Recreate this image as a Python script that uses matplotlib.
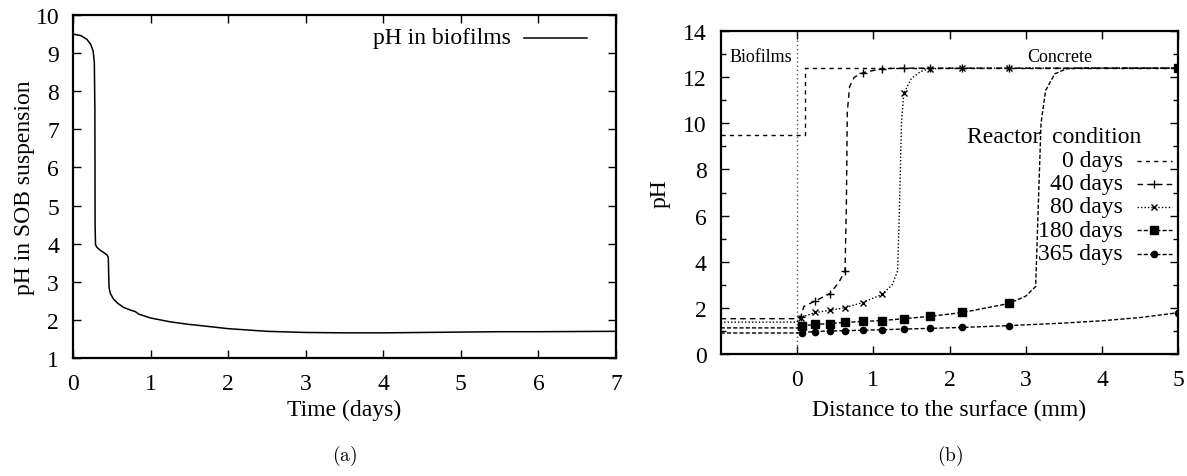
import numpy as np
import matplotlib
matplotlib.use("Agg")
import matplotlib.pyplot as plt
from matplotlib.ticker import MultipleLocator

plt.rcParams['font.family'] = ['Liberation Serif', 'DejaVu Serif']
plt.rcParams['mathtext.fontset'] = 'cm'

# --- (a) pH in SOB suspension vs time ---
time_days = [0, 0.1, 0.18, 0.23, 0.26, 0.275, 0.282, 0.285, 0.29, 0.31, 0.35, 0.4,
             0.44, 0.455, 0.46, 0.465, 0.48, 0.52, 0.58, 0.65, 0.75, 0.8, 0.85, 1.0,
             1.25, 1.5, 1.6, 2.0, 2.5, 3.0, 3.5, 4.0, 4.5, 5.0, 5.5, 6.0, 7.0]
ph_biofilm = [9.5, 9.46, 9.36, 9.22, 9.05, 8.75, 7.5, 4.5, 3.97, 3.9, 3.83, 3.76,
              3.7, 3.64, 3.2, 2.85, 2.7, 2.55, 2.43, 2.33, 2.25, 2.22, 2.15, 2.05,
              1.95, 1.88, 1.86, 1.77, 1.70, 1.67, 1.66, 1.66, 1.67, 1.68, 1.69, 1.69, 1.70]

# --- (b) pH profiles across biofilm/concrete ---
x_0d = [-1, 0.1, 0.1, 5.0]
ph_0d = [9.5, 9.5, 12.4, 12.4]

x_40d = [-1, 0, 0.05, 0.09, 0.24, 0.43, 0.55, 0.63, 0.648, 0.66, 0.69, 0.75,
         0.86, 1.12, 1.40, 1.74, 2.17, 2.78, 5.0]
ph_40d = [1.52, 1.52, 1.6, 2.05, 2.29, 2.61, 3.1, 3.6, 6.5, 10.5, 11.6, 12.0,
          12.2, 12.38, 12.4, 12.4, 12.4, 12.4, 12.4]
mk_40d = [2, 4, 5, 7, 12, 13, 14, 15, 16, 17]

x_80d = [-1, 0, 0.05, 0.24, 0.43, 0.63, 0.86, 1.12, 1.25, 1.32, 1.345, 1.37,
         1.40, 1.50, 1.62, 1.74, 2.17, 2.78, 5.0]
ph_80d = [1.37, 1.37, 1.57, 1.79, 1.88, 2.0, 2.22, 2.58, 3.0, 3.6, 6.5, 10.0,
          11.3, 11.95, 12.25, 12.38, 12.4, 12.4, 12.4]
mk_80d = [2, 3, 4, 5, 6, 7, 12, 15, 16, 17]

x_180d = [-1, 0, 0.06, 0.24, 0.43, 0.63, 0.86, 1.12, 1.40, 1.74, 2.17, 2.78, 3.0,
          3.13, 3.16, 3.2, 3.26, 3.38, 3.53, 3.7, 5.0]
ph_180d = [1.12, 1.12, 1.21, 1.27, 1.31, 1.36, 1.40, 1.44, 1.52, 1.62, 1.79, 2.18, 2.5,
           2.92, 6.0, 10.0, 11.43, 12.15, 12.37, 12.4, 12.4]
mk_180d = [2, 3, 4, 5, 6, 7, 8, 9, 10, 11, 20]

x_365d = [-1, 0, 0.06, 0.24, 0.43, 0.63, 0.86, 1.12, 1.40, 1.74, 2.17, 2.78,
          3.5, 4.0, 4.5, 5.0]
ph_365d = [0.90, 0.90, 0.92, 0.96, 0.99, 1.0, 1.02, 1.04, 1.07, 1.10, 1.14, 1.22,
           1.33, 1.43, 1.57, 1.78]
mk_365d = [2, 3, 4, 5, 6, 7, 8, 9, 10, 11, 15]

series = [
    ("0 days", x_0d, ph_0d, None, dict(ls=(0, (3, 3)), marker=None)),
    ("40 days", x_40d, ph_40d, mk_40d, dict(ls=(0, (4, 3)), marker='+', ms=6, mew=1)),
    ("80 days", x_80d, ph_80d, mk_80d, dict(ls=(0, (1, 1.5)), marker='x', ms=5, mew=1)),
    ("180 days", x_180d, ph_180d, mk_180d, dict(ls=(0, (3, 1.5)), marker='s', ms=6)),
    ("365 days", x_365d, ph_365d, mk_365d, dict(ls=(0, (3, 1.5)), marker='o', ms=4.5)),
]

FS = 17

fig = plt.figure(figsize=(11.87, 4.77), dpi=100)
ax1 = fig.add_axes([73 / 1187, 1 - 359 / 477, 543 / 1187, 343 / 477])
ax2 = fig.add_axes([720.7 / 1187, 1 - 354.7 / 477, 457.6 / 1187, 322.4 / 477])


def style_axes(ax):
    for s in ax.spines.values():
        s.set_linewidth(1.6)
    ax.tick_params(which='both', direction='in', top=True, right=True,
                   labelsize=FS, width=1.0)
    ax.tick_params(axis='x', pad=11)
    ax.tick_params(axis='y', pad=10)
    ax.tick_params(which='major', length=6)
    ax.tick_params(which='minor', length=3.5)


# panel (a)
ax1.plot(time_days, ph_biofilm, color='black', lw=1.1)
ax1.set_xlim(0, 7)
ax1.set_ylim(1, 10)
ax1.xaxis.set_major_locator(MultipleLocator(1))
ax1.yaxis.set_major_locator(MultipleLocator(1))
style_axes(ax1)
ax1.set_xlabel("Time (days)", fontsize=FS)
ax1.set_ylabel("pH in SOB suspension", fontsize=FS)
ax1.yaxis.set_label_coords(-0.07, 0.5)
ax1.xaxis.set_label_coords(0.5, -0.12)
ax1.text(0.8066, 0.933, "pH in biofilms", transform=ax1.transAxes,
         ha='right', va='center', fontsize=FS)
ax1.plot([0.8306, 0.9466], [0.933, 0.933], transform=ax1.transAxes,
         color='black', lw=1.1)

# panel (b)
ax2.axvline(0, color='#555555', lw=1.0, ls=(0, (1, 2)))
for label, xs, ys, mk, st in series:
    kw = dict(st)
    marker = kw.pop('marker')
    ax2.plot(xs, ys, color='black', lw=1.0, marker=marker, markevery=mk, **kw)

ax2.set_xlim(-1, 5)
ax2.set_ylim(0, 14)
ax2.set_xticks([0, 1, 2, 3, 4, 5])
ax2.yaxis.set_major_locator(MultipleLocator(2))
ax2.yaxis.set_minor_locator(MultipleLocator(1))
style_axes(ax2)
ax2.set_xlabel("Distance to the surface (mm)", fontsize=FS)
ax2.set_ylabel("pH", fontsize=FS)
ax2.yaxis.set_label_coords(-0.11, 0.5)
ax2.xaxis.set_label_coords(0.5, -0.14)

ax2.text(-0.883, 12.9, "Biofilms", fontsize=13, ha='left', va='center')
ax2.text(3.445, 12.9, "Concrete", fontsize=13, ha='center', va='center')

# gnuplot-like key: text right aligned, sample on the right
ax2.text(0.728, 0.675, "Reactor  condition", transform=ax2.transAxes,
         ha='center', va='center', fontsize=FS)
row_y = [0.598, 0.527, 0.456, 0.383, 0.31]
for (label, xs, ys, mk, st), yy in zip(series, row_y):
    kw = dict(st)
    marker = kw.pop('marker')
    ax2.text(0.8785, yy, label, transform=ax2.transAxes,
             ha='right', va='center', fontsize=FS)
    ax2.plot([0.909, 0.9856], [yy, yy], transform=ax2.transAxes,
             color='black', lw=1.0, **{k: v for k, v in kw.items() if k == 'ls'})
    if marker is not None:
        ax2.plot([0.947], [yy], transform=ax2.transAxes, color='black',
                 marker=marker, ls='none',
                 **{k: v for k, v in kw.items() if k in ('ms', 'mew')})

fig.text(345 / 1187, 1 - 456 / 477, r"$\mathrm{(a)}$", ha='center', va='center', fontsize=14)
fig.text(950 / 1187, 1 - 456 / 477, r"$\mathrm{(b)}$", ha='center', va='center', fontsize=14)

fig.savefig("out.png", dpi=100)
